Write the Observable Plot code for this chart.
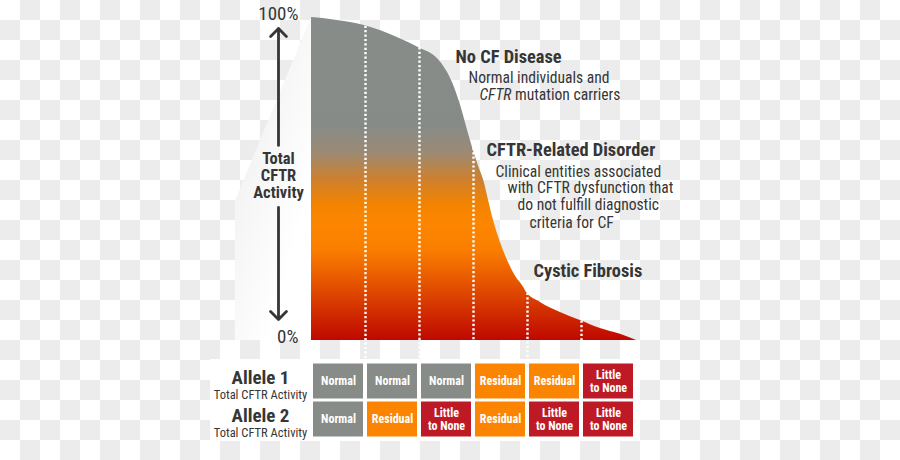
<!DOCTYPE html>
<html><head><meta charset="utf-8">
<script src="https://cdn.jsdelivr.net/npm/d3@7"></script>
<script src="https://cdn.jsdelivr.net/npm/@observablehq/plot@0.6"></script>
<style>
html,body{margin:0;padding:0;}
body{width:900px;height:460px;overflow:hidden;background:repeating-conic-gradient(#ececec 0 25%, #ffffff 0 50%) 0 0/40px 40px;}
#wrap{position:relative;width:900px;height:460px;}
#wrap svg{position:absolute;}
</style></head><body><div id="wrap"></div>
<script>
const FONT = "'Liberation Sans Narrow', 'Roboto Condensed', 'DejaVu Sans Condensed', Roboto, sans-serif";

// Activity curve (x = genotype column position 0..6, y = % total CFTR activity)
const curvePos      = [0, 0.35, 0.98, 1.59, 1.98, 2.33, 2.44, 2.61, 2.76, 2.89, 2.98, 3.09, 3.19, 3.28, 3.37, 3.5, 3.63, 3.78, 3.93, 3.98, 4.24, 4.61, 4.98, 5.35, 5.72, 6.02];
const curveActivity = [100, 99.4, 97.5, 93.8, 90.7, 87.3, 85.1, 79.9, 72.8, 65.0, 59.8, 54.2, 49.5, 43.3, 37.2, 30.3, 24.8, 19.8, 16.4, 14.9, 11.8, 8.7, 6.2, 3.7, 1.9, 0];

// Dotted column dividers
const dividerPos = [1, 2, 3, 4, 5];
const dividerTop = [97.3, 90.6, 59.5, 14.6, 6.0];

// Y axis
const yTicks = [0, 100];
const yTickLabels = ["0%", "100%"];
const axisTitle = "Total\nCFTR\nActivity";

// Annotations
const headNoCF = "No CF Disease";
const bodyNoCF = ["Normal individuals and", "CFTR mutation carriers"];
const headCRD = "CFTR-Related Disorder";
const bodyCRD = ["Clinical entities associated", "with CFTR dysfunction that", "do not fulfill diagnostic", "criteria for CF"];
const headCF = "Cystic Fibrosis";

// Allele table
const columns = [1, 2, 3, 4, 5, 6];
const rowLabels = ["Allele 1", "Allele 2"];
const rowSubLabel = "Total CFTR Activity";
const allele1 = ["Normal", "Normal", "Normal", "Residual", "Residual", "Little to None"];
const allele2 = ["Normal", "Residual", "Little to None", "Residual", "Little to None", "Little to None"];
const statuses = ["Normal", "Residual", "Little to None"];
const statusColors = ["#878c89", "#fb8500", "#be1a26"];

const curve = curvePos.map((p, i) => ({pos: p, activity: curveActivity[i]}));
const dividers = dividerPos.map((p, i) => ({pos: p, top: dividerTop[i]}));
const TXT = "#363636";
const HEAD = 18.4, BODY = 15.6;

const chart = Plot.plot({
  width: 900, height: 460,
  marginLeft: 311, marginRight: 265, marginTop: 17, marginBottom: 120,
  x: {domain: [0, 6], axis: null},
  y: {domain: [0, 100]},
  style: {fontFamily: FONT, color: TXT, background: "transparent", overflow: "visible"},
  marks: [
    Plot.areaY([{pos: -1.41, top: 43}, {pos: 0, top: 100}], {x: "pos", y1: 0, y2: "top", fill: "url(#shadeGrad)"}),
    Plot.areaY(curve, {x: "pos", y: "activity", fill: "url(#cftrGrad)", curve: "monotone-x"}),
    Plot.ruleX(dividers, {x: "pos", y1: "top", y2: -6.2, stroke: "white", strokeWidth: 2.4, strokeDasharray: "2.2 2.2"}),
    Plot.axisY({ticks: yTicks, tickFormat: d => yTickLabels[yTicks.indexOf(d)], tickSize: 0, tickPadding: 13, fontSize: 19, dy: -3.5, label: null, anchor: "left"}),
    Plot.arrow([0], {x1: 0, x2: 0, y1: 60.4, y2: 96.6, dx: -33, stroke: TXT, strokeWidth: 2.8, headLength: 6, headAngle: 90}),
    Plot.arrow([0], {x1: 0, x2: 0, y1: 41.2, y2: 6.5, dx: -33, stroke: TXT, strokeWidth: 2.8, headLength: 6, headAngle: 90}),
    Plot.text([axisTitle], {x: 0, y: 51.1, dx: -33, fontWeight: "bold", fontSize: 16.5, lineHeight: 1.04, fill: TXT}),
    Plot.text([headNoCF], {x: 2.667, y: 87.6, textAnchor: "start", fontWeight: "bold", fontSize: HEAD, fill: TXT}),
    Plot.text([bodyNoCF[0]], {x: 2.907, y: 81.4, textAnchor: "start", fontSize: BODY, fill: TXT}),
    Plot.text([bodyNoCF[1]], {x: 3.111, y: 75.9, textAnchor: "start", fontSize: BODY, fill: TXT}),
    Plot.text([headCRD], {x: 3.241, y: 58.8, textAnchor: "start", fontWeight: "bold", fontSize: HEAD, fill: TXT}),
    Plot.text([bodyCRD[0]], {x: 3.407, y: 52.3, textAnchor: "start", fontSize: BODY, fill: TXT}),
    Plot.text([bodyCRD[1]], {x: 3.63, y: 47.1, textAnchor: "start", fontSize: BODY, fill: TXT}),
    Plot.text([bodyCRD[2]], {x: 3.815, y: 41.8, textAnchor: "start", fontSize: BODY, fill: TXT}),
    Plot.text([bodyCRD[3]], {x: 4.037, y: 36.5, textAnchor: "start", fontSize: BODY, fill: TXT}),
    Plot.text([headCF], {x: 4.111, y: 21.4, textAnchor: "start", fontWeight: "bold", fontSize: HEAD, fill: TXT})
  ]
});

const defs = document.createElementNS("http://www.w3.org/2000/svg", "defs");
defs.innerHTML = `
<linearGradient id="cftrGrad" x1="0" y1="0" x2="0" y2="1">
  <stop offset="0" stop-color="#868c89"/>
  <stop offset="0.34" stop-color="#878b87"/>
  <stop offset="0.42" stop-color="#9c8a74"/>
  <stop offset="0.50" stop-color="#cd8030"/>
  <stop offset="0.58" stop-color="#f38400"/>
  <stop offset="0.64" stop-color="#fd8600"/>
  <stop offset="0.72" stop-color="#fa7e00"/>
  <stop offset="0.82" stop-color="#e65600"/>
  <stop offset="0.92" stop-color="#d02a00"/>
  <stop offset="1" stop-color="#bf0800"/>
</linearGradient>
<linearGradient id="shadeGrad" x1="0" y1="0" x2="0.7" y2="0.8">
  <stop offset="0" stop-color="#d6d6d6"/>
  <stop offset="0.4" stop-color="#f4f4f4"/>
  <stop offset="1" stop-color="#ffffff"/>
</linearGradient>`;
chart.insertBefore(defs, chart.firstChild);
chart.style.left = "0px"; chart.style.top = "0px";
for (const t of chart.querySelectorAll("text")) {
  if (t.textContent === bodyNoCF[1]) {
    t.innerHTML = '<tspan font-style="italic">CFTR</tspan> mutation carriers';
  }
}

const tableData = columns.flatMap((c, i) => [
  {col: c, row: rowLabels[0], status: allele1[i]},
  {col: c, row: rowLabels[1], status: allele2[i]}
]);

const table = Plot.plot({
  width: 430, height: 82,
  marginLeft: 101, marginRight: 5, marginTop: 2.5, marginBottom: 3.5,
  x: {type: "band", domain: columns, padding: 0, axis: null},
  y: {type: "band", domain: rowLabels, padding: 0, axis: null},
  color: {domain: statuses, range: statusColors},
  style: {fontFamily: FONT, color: TXT, background: "white", overflow: "visible"},
  marks: [
    Plot.cell(tableData, {x: "col", y: "row", fill: "status", insetLeft: 2, insetRight: 2, insetTop: 1.5, insetBottom: 1.5}),
    Plot.text(tableData, {x: "col", y: "row", text: d => d.status.replace(" to ", "\nto "), fill: "white", fontWeight: "bold", fontSize: 12, lineHeight: 1.02}),
    Plot.text(rowLabels, {y: d => d, frameAnchor: "left", textAnchor: "middle", dx: -51, dy: -4, fontWeight: "bold", fontSize: 19, fill: TXT}),
    Plot.text(rowLabels, {y: d => d, text: () => rowSubLabel, frameAnchor: "left", textAnchor: "middle", dx: -51, dy: 13, fontSize: 12.5, fill: TXT})
  ]
});
table.style.left = "210px"; table.style.top = "359px";

const wrap = document.getElementById("wrap");
wrap.appendChild(chart);
wrap.appendChild(table);
</script></body></html>
